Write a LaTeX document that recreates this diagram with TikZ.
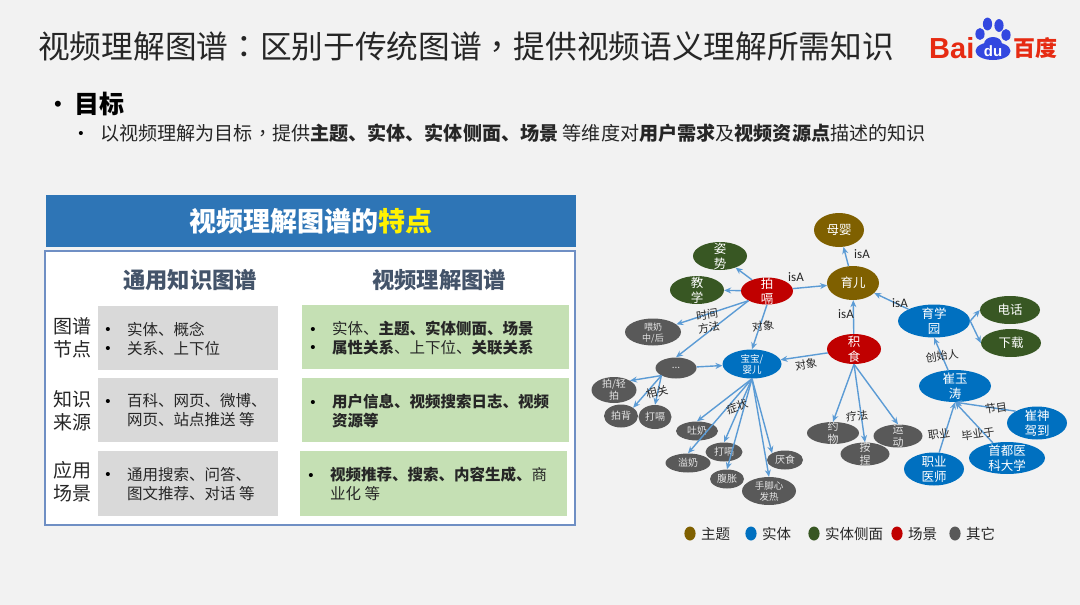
\documentclass[tikz,border=0pt]{standalone}
\usepackage{fontspec}
\setmainfont{Noto Sans CJK SC}
\newfontfamily\latinfont{Carlito}
\newfontfamily\logofont{Liberation Sans}
\newfontfamily\cjktc{Noto Sans CJK TC}
\usetikzlibrary{shapes.geometric,arrows.meta}
\definecolor{slidebg}{HTML}{F2F2F2}
\definecolor{headblue}{HTML}{2E75B6}
\definecolor{frameblue}{HTML}{6F8FC4}
\definecolor{boxgray}{HTML}{D9D9D9}
\definecolor{boxgreen}{HTML}{C5E0B4}
\definecolor{columnink}{HTML}{44546A}
\definecolor{textink}{HTML}{262626}
\definecolor{topiccol}{HTML}{7F6000}
\definecolor{entitycol}{HTML}{0070C0}
\definecolor{facetcol}{HTML}{385723}
\definecolor{scenecol}{HTML}{C00000}
\definecolor{othercol}{HTML}{595959}
\definecolor{edgeblue}{HTML}{5B9BD5}
\definecolor{logored}{HTML}{E62B12}
\definecolor{logoblue}{HTML}{3348E0}
\newcommand{\fs}[2]{\fontsize{#1}{#2}\selectfont}
% text that does not push the ellipse wider or taller
\newcommand{\ntx}[1]{\makebox[0pt]{\smash{\raisebox{-0.4em}{\begin{tabular}{@{}c@{}}#1\end{tabular}}}}}
\newcommand{\twpunct}[1]{{\cjktc #1}}
\tikzset{
  graphnode/.style={ellipse,inner sep=0pt,text=white,font=\fs{12.5}{14.5}},
  topicnode/.style={graphnode,fill=topiccol},
  entitynode/.style={graphnode,fill=entitycol},
  facetnode/.style={graphnode,fill=facetcol},
  scenenode/.style={graphnode,fill=scenecol},
  othernode/.style={graphnode,fill=othercol,text=white!90!black,font=\fs{10}{12}},
  edgeline/.style={draw=edgeblue,line width=1.4pt,-{Stealth[length=7pt,width=6pt]}},
  edgelabel/.style={inner sep=0pt,text=textink,font=\fs{11}{13},align=center},
  isalabel/.style={inner sep=0pt,text=textink,font=\latinfont\fs{13}{15}},
  bodytext/.style={anchor=west,inner sep=0pt,align=left,text=textink,font=\fs{15.5}{19}},
  rowlabel/.style={inner sep=0pt,align=center,text=textink,font=\fs{19}{23}},
  dotmark/.style={inner sep=0pt,text=black,yshift=-1.5pt,font=\logofont\fs{15}{15}},
  legendtext/.style={anchor=west,inner sep=0pt,text=textink,font=\fs{14.5}{16}},
}
\begin{document}
\begin{tikzpicture}[x=1pt,y=-1pt]
  \useasboundingbox (0,0) rectangle (1080,605);
  \fill[slidebg] (0,0) rectangle (1080,605);
  % title and goal
  \node[inner sep=0pt,anchor=west,text=textink,font=\fs{31.7}{36}] (title) at (38,46) {视频理解图谱\twpunct{：}区别于传统图谱\twpunct{，}提供视频语义理解所需知识};
  \node[dotmark,font=\logofont\fs{22}{22}] (goaldot) at (58,105) {•};
  \node[inner sep=0pt,anchor=west,text=black,font=\fs{25}{28}\bfseries] (goal) at (74,104) {目标};
  \node[dotmark] (subdot) at (81,133) {•};
  \node[inner sep=0pt,anchor=west,text=textink,font=\fs{19.1}{22}] (goaltext) at (100,133) {以视频理解为目标\twpunct{，}提供\textbf{主题、实体、实体侧面、场景} 等维度对\textbf{用户需求}及\textbf{视频资源点}描述的知识};
  % logo
  \node[inner sep=0pt,anchor=west,text=logored,font=\logofont\fs{29}{30}\bfseries] (logobai) at (929,48) {Bai};
  \fill[logoblue] (980,34) ellipse (4.6 and 6);
  \fill[logoblue] (987.5,24) ellipse (4.6 and 6.4);
  \fill[logoblue] (999,25.5) ellipse (4.6 and 6.4);
  \fill[logoblue] (1006,35) ellipse (4.6 and 6);
  \fill[logoblue] (993,44) ellipse (9 and 7);
  \node[ellipse,fill=logoblue,minimum width=35pt,minimum height=18pt,inner sep=0pt,text=white,font=\logofont\fs{15}{15}\bfseries] (logodu) at (993,51) {du};
  \node[inner sep=0pt,anchor=west,text=logored,font=\fs{22}{24}\bfseries] (logocn) at (1013,48) {百度};
  % table
  \node[draw=none,fill=headblue,minimum width=530pt,minimum height=52pt,inner sep=0pt,text=white,font=\fs{27}{30}\bfseries] (tablehead) at (311,221) {视频理解图谱的\textcolor{yellow}{特点}};
  \draw[frameblue,fill=white,line width=1.4pt] (45,251) rectangle (575,525);
  \node[inner sep=0pt,text=columnink,font=\fs{22.3}{26}\bfseries] (colcommon) at (190,280) {通用知识图谱};
  \node[inner sep=0pt,text=columnink,font=\fs{22.3}{26}\bfseries] (colvideo) at (439,280) {视频理解图谱};
  \foreach \a/\b in {306/370,378/442,451/516} {
    \fill[boxgray] (98,\a) rectangle (278,\b);
  }
  \fill[boxgreen] (302,305) rectangle (569,369);
  \fill[boxgreen] (302,378) rectangle (569,442);
  \fill[boxgreen] (300,451) rectangle (567,516);
  \node[rowlabel] (rownode) at (72,338) {图谱\\节点};
  \node[rowlabel] (rowsource) at (72,411) {知识\\来源};
  \node[rowlabel] (rowscene) at (72,482) {应用\\场景};
  \foreach \x/\y/\n in {108/329/a,108/348/b,108/401/c,108/474/d,313/329/e,313/347/f,313/402/g,311/475/h} {
    \node[dotmark] (bullet\n) at (\x,\y) {•};
  }
  \node[bodytext] (cellA) at (127,338.5) {实体、概念\\关系、上下位};
  \node[bodytext] (cellB) at (127,410.5) {百科、网页、微博、\\网页、站点推送 等};
  \node[bodytext] (cellC) at (127,484) {通用搜索、问答、\\图文推荐、对话 等};
  \node[bodytext] (cellD) at (332,338.5) {实体、\textbf{主题、实体侧面、场景}\\\textbf{属性关系}、上下位、\textbf{关联关系}};
  \node[bodytext] (cellE) at (332,411.5) {\textbf{用户信息、视频搜索日志、视频}\\\textbf{资源等}};
  \node[bodytext] (cellF) at (330,484) {\textbf{视频推荐、搜索、内容生成、}商\\业化 等};
  % graph nodes
  \node[topicnode,minimum width=50pt,minimum height=34pt] (muying) at (839,230) {母婴};
  \node[topicnode,minimum width=52pt,minimum height=34pt] (yuer) at (853,283) {育儿};
  \node[scenenode,minimum width=52pt,minimum height=27pt] (paige) at (767,291) {\ntx{拍\\嗝}};
  \node[scenenode,minimum width=54pt,minimum height=30pt] (jishi) at (854,349) {\ntx{积\\食}};
  \node[facetnode,minimum width=54pt,minimum height=28pt] (zishi) at (720,256) {\ntx{姿\\势}};
  \node[facetnode,minimum width=54pt,minimum height=28pt] (jiaoxue) at (697,290) {\ntx{教\\学}};
  \node[othernode,minimum width=56pt,minimum height=27pt,font=\fs{9}{11}] (weinai) at (653,332) {\ntx{喂奶\\中/后}};
  \node[othernode,minimum width=41pt,minimum height=21pt] (dots) at (676,368) {...};
  \node[entitynode,minimum width=59pt,minimum height=29pt,font=\fs{9.5}{10.5}] (baobao) at (752,364) {\ntx{宝宝/\\婴儿}};
  \node[entitynode,minimum width=72pt,minimum height=33pt] (yuxue) at (934,321) {\ntx{育学\\园}};
  \node[facetnode,minimum width=60pt,minimum height=28pt] (dianhua) at (1010,310) {电话};
  \node[facetnode,minimum width=60pt,minimum height=28pt] (xiazai) at (1011,343) {下载};
  \node[entitynode,minimum width=72pt,minimum height=32pt] (cuiyutao) at (955,386) {\ntx{崔玉\\涛}};
  \node[entitynode,minimum width=60pt,minimum height=33pt] (cuishen) at (1037,423) {\ntx{崔神\\驾到}};
  \node[entitynode,minimum width=76pt,minimum height=32pt] (shoudu) at (1007,458) {\ntx{首都医\\科大学}};
  \node[entitynode,minimum width=60pt,minimum height=33pt] (zhiye) at (934,469) {\ntx{职业\\医师}};
  \node[othernode,minimum width=52pt,minimum height=22pt,font=\fs{11}{12.5}] (yaowu) at (833,433) {\ntx{约\\物}};
  \node[othernode,minimum width=49pt,minimum height=23pt,font=\fs{11}{12.5}] (anjie) at (865,454) {\ntx{按\\捏}};
  \node[othernode,minimum width=49pt,minimum height=23pt,font=\fs{11}{12.5}] (yundong) at (898,436) {\ntx{运\\动}};
  \node[othernode,minimum width=42pt,minimum height=19pt] (tunai) at (697,431) {吐奶};
  \node[othernode,minimum width=45pt,minimum height=19pt] (yinai) at (688,463) {溢奶};
  \node[othernode,minimum width=37pt,minimum height=19pt] (dage) at (724,452) {打嗝};
  \node[othernode,minimum width=34pt,minimum height=19pt] (fuzhang) at (727,479) {腹胀};
  \node[othernode,minimum width=36pt,minimum height=19pt] (yanshi) at (785,460) {厌食};
  \node[othernode,minimum width=54pt,minimum height=28pt,font=\fs{9.5}{10.5}] (shoujiao) at (769,491) {\ntx{手脚心\\发热}};
  \node[othernode,minimum width=45pt,minimum height=26pt] (paiqing) at (614,390) {\ntx{拍/轻\\拍}};
  \node[othernode,minimum width=34pt,minimum height=23pt] (paibei) at (621,416) {拍背};
  \node[othernode,minimum width=33pt,minimum height=24pt] (dageb) at (655,417) {打嗝};
  % graph edges
  \draw[edgeline] (paige) -- (yuer);
  \draw[edgeline] (yuer) -- (muying);
  \draw[edgeline] (jishi) -- (yuer);
  \draw[edgeline] (yuxue.north west) -- (yuer);
  \draw[edgeline] (paige) -- (zishi);
  \draw[edgeline] (paige) -- (jiaoxue);
  \draw[edgeline] (paige.south west) -- (weinai);
  \draw[edgeline] (paige.south west) -- (dots.north);
  \draw[edgeline] (paige.south) -- (baobao.north);
  \draw[edgeline] (jishi) -- (baobao);
  \draw[edgeline] (dots) -- (baobao);
  \draw[edgeline] (yuxue.east) -- (dianhua.west);
  \draw[edgeline] (yuxue.east) -- (xiazai.west);
  \draw[edgeline] (cuiyutao) -- (yuxue.south);
  \draw[edgeline] (cuishen.north west) -- (cuiyutao.south);
  \draw[edgeline] (shoudu) -- (cuiyutao.south);
  \draw[edgeline] (zhiye) -- (cuiyutao.south);
  \foreach \t in {yaowu.north,anjie.north,yundong.north} {
    \draw[edgeline] (jishi.south) -- (\t);
  }
  \foreach \t in {tunai.north,yinai.north,dage.north,fuzhang.north,yanshi.north west,shoujiao.north} {
    \draw[edgeline] (baobao.south) -- (\t);
  }
  \foreach \t in {paiqing.north east,paibei.north east,dageb.north} {
    \draw[edgeline] (dots.south west) -- (\t);
  }
  % edge labels
  \node[isalabel] (lblA) at (796,277) {isA};
  \node[isalabel] (lblB) at (862,254) {isA};
  \node[isalabel] (lblC) at (900,303) {isA};
  \node[isalabel] (lblD) at (846,314) {isA};
  \node[edgelabel,rotate=8] (lblE) at (708,321) {时间\\方法};
  \node[edgelabel,rotate=8] (lblF) at (763,326) {对象};
  \node[edgelabel,rotate=10] (lblG) at (806,364) {对象};
  \node[edgelabel,rotate=8] (lblH) at (942,356) {创始人};
  \node[edgelabel,rotate=8] (lblI) at (996,408) {节目};
  \node[edgelabel,rotate=8] (lblJ) at (939,434) {职业};
  \node[edgelabel,rotate=8] (lblK) at (978,434) {毕业于};
  \node[edgelabel,rotate=8] (lblL) at (857,416) {疗法};
  \node[edgelabel,rotate=20] (lblM) at (737,407) {症状};
  \node[edgelabel,rotate=15] (lblN) at (657,392) {相关};
  % legend
  \foreach \x/\c/\l/\n in {690/topiccol/主题/a,751/entitycol/实体/b,814/facetcol/实体侧面/c,897/scenecol/场景/d,955/othercol/其它/e} {
    \fill[\c] (\x,533.5) ellipse (5.6 and 7);
    \node[legendtext] (legend\n) at (\x+11,534) {\l};
  }
\end{tikzpicture}
\end{document}
